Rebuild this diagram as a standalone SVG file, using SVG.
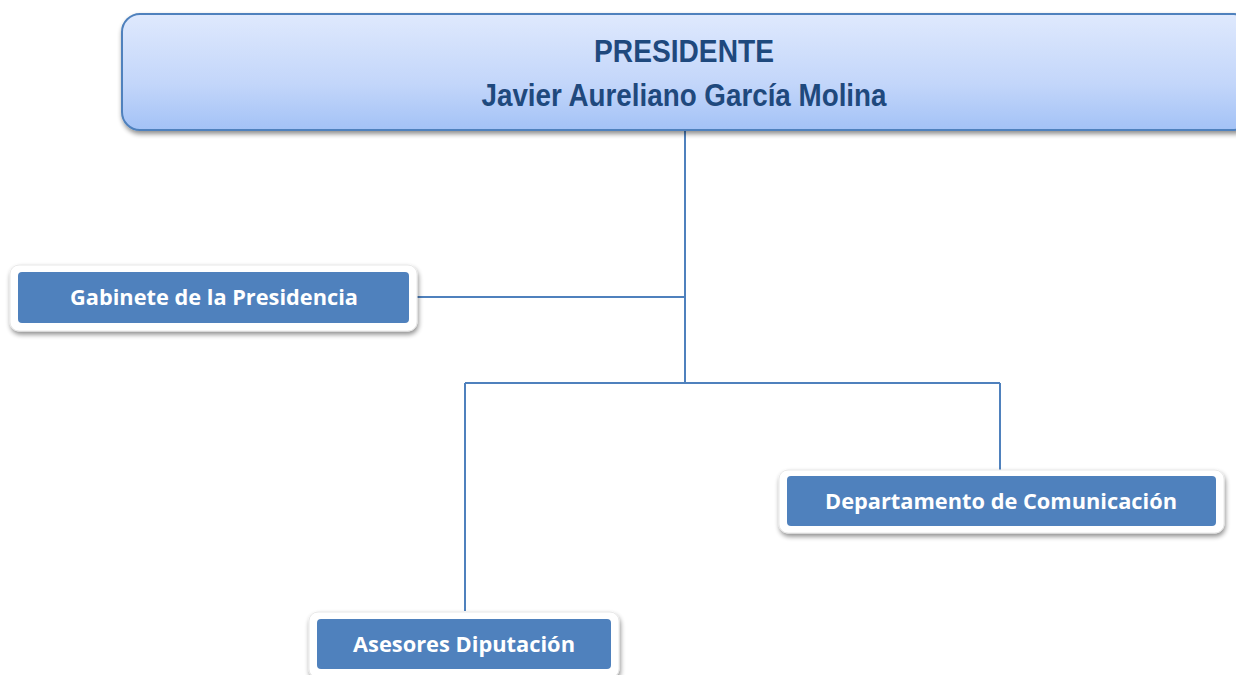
<svg xmlns="http://www.w3.org/2000/svg" width="1236" height="675" viewBox="0 0 1236 675">
<defs>
<linearGradient id="topg" x1="0" y1="0" x2="0" y2="1">
<stop offset="0" stop-color="#DFE9FD"/>
<stop offset="0.6" stop-color="#C3D6FA"/>
<stop offset="1" stop-color="#A3C2F6"/>
</linearGradient>
<filter id="sh" x="-5%" y="-20%" width="110%" height="150%">
<feGaussianBlur in="SourceAlpha" stdDeviation="2.5"/>
<feOffset dx="1" dy="3" result="b"/>
<feComponentTransfer><feFuncA type="linear" slope="0.45"/></feComponentTransfer>
<feMerge><feMergeNode/><feMergeNode in="SourceGraphic"/></feMerge>
</filter>
<style>
.outer{fill:#ffffff;stroke:#E8E8E8;stroke-width:1}
.inner{fill:#4F81BD}
.lbl{font-family:"Open Sans","Liberation Sans",sans-serif;font-weight:bold;font-size:20.5px;fill:#ffffff;text-anchor:middle}
.top{font-family:"Liberation Sans",sans-serif;font-weight:bold;fill:#1F497D;text-anchor:middle}
.conn{stroke:#4F81BD;stroke-width:2;fill:none}
</style>
</defs>
<rect width="1236" height="675" fill="#ffffff"/>
<g id="connectors">
<path class="conn" d="M685 131 V383"/>
<path class="conn" d="M417 297 H685"/>
<path class="conn" d="M465 383 H1000"/>
<path class="conn" d="M465 383 V611"/>
<path class="conn" d="M1000 383 V471"/>
</g>
<g id="presidente">
<rect x="122" y="14" width="1130" height="116" rx="18" fill="url(#topg)" stroke="#4F81BD" stroke-width="2" filter="url(#sh)"/>
<text class="top" x="684" y="62" font-size="31" textLength="180" lengthAdjust="spacingAndGlyphs">PRESIDENTE</text>
<text class="top" x="684" y="106" font-size="31" textLength="405" lengthAdjust="spacingAndGlyphs">Javier Aureliano García Molina</text>
</g>
<g id="gabinete">
<rect class="outer" x="10" y="265" width="407" height="66" rx="9" filter="url(#sh)"/>
<rect class="inner" x="18" y="272" width="391" height="51" rx="4"/>
<text class="lbl" x="214" y="305" textLength="288" lengthAdjust="spacingAndGlyphs">Gabinete de la Presidencia</text>
</g>
<g id="departamento">
<rect class="outer" x="779" y="470" width="445" height="63" rx="9" filter="url(#sh)"/>
<rect class="inner" x="787" y="476" width="429" height="50" rx="4"/>
<text class="lbl" x="1001" y="509" textLength="352" lengthAdjust="spacingAndGlyphs">Departamento de Comunicación</text>
</g>
<g id="asesores">
<rect class="outer" x="309" y="612" width="310" height="66" rx="9" filter="url(#sh)"/>
<rect class="inner" x="317" y="619" width="294" height="50" rx="4"/>
<text class="lbl" x="464" y="652" textLength="222" lengthAdjust="spacingAndGlyphs">Asesores Diputación</text>
</g>
</svg>
